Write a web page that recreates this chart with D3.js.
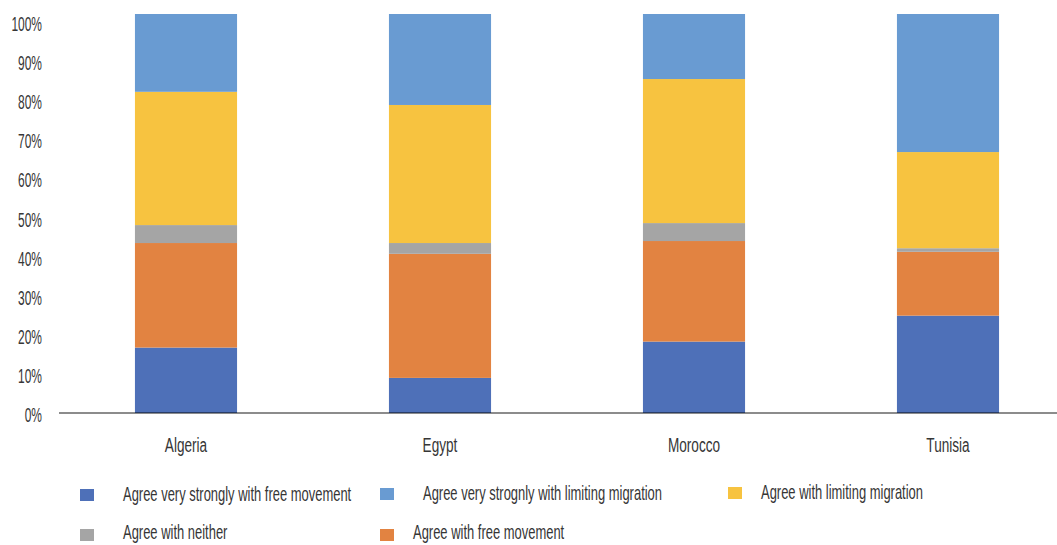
<!DOCTYPE html>
<html>
<head>
<meta charset="utf-8">
<script src="https://cdn.jsdelivr.net/npm/d3@7"></script>
<style>
  html, body { margin: 0; padding: 0; background: #fff; }
  svg { display: block; }
  text { font-family: "Liberation Sans", Arial, sans-serif; fill: #363636; }
</style>
</head>
<body>
<svg id="chart" width="1057" height="545"></svg>
<script>
// ---- data ----
const countries = ["Algeria", "Egypt", "Morocco", "Tunisia"];
const veryStronglyFree = [16.4, 8.8, 17.9, 24.4];
const withFree = [26.2, 31.1, 25.2, 16.0];
const neither = [4.5, 2.7, 4.5, 0.9];
const withLimiting = [33.4, 34.6, 36.1, 24.1];
const veryStronglyLimiting = [19.5, 22.8, 16.3, 34.6];
const yTicks = [0, 10, 20, 30, 40, 50, 60, 70, 80, 90, 100];
const seriesNames = [
  "Agree very strongly with free movement",
  "Agree with free movement",
  "Agree with neither",
  "Agree with limiting migration",
  "Agree very strognly with limiting migration"
];
const seriesColors = ["#4e70b8", "#e28341", "#a5a5a5", "#f7c340", "#699bd2"];

// ---- build table ----
const seriesValues = [veryStronglyFree, withFree, neither, withLimiting, veryStronglyLimiting];
const keys = seriesNames;
const table = countries.map((c, i) => {
  const row = { country: c };
  keys.forEach((k, j) => row[k] = seriesValues[j][i]);
  return row;
});
const stack = d3.stack().keys(keys).offset(d3.stackOffsetExpand);
const stacked = stack(table);

const svg = d3.select("#chart");

const x = d3.scaleBand().domain(countries).range([59, 1075])
  .paddingInner(0.598).paddingOuter(0.299);
const y = d3.scaleLinear().domain([0, 1]).range([413, 14]);
const yLab = d3.scaleLinear().domain([0, 100]).range([414, 23]);
const color = d3.scaleOrdinal().domain(keys).range(seriesColors);

// bars
svg.append("g").selectAll("g").data(stacked).join("g")
  .attr("fill", d => color(d.key))
  .selectAll("rect").data(d => d).join("rect")
  .attr("x", d => x(d.data.country))
  .attr("width", x.bandwidth())
  .attr("y", d => y(d[1]))
  .attr("height", d => y(d[0]) - y(d[1]));

// x axis line
svg.append("line")
  .attr("x1", 59).attr("x2", 1057)
  .attr("y1", 413).attr("y2", 413)
  .attr("stroke", "rgba(0,0,0,0.45)").attr("stroke-width", 2);

// y axis labels
const yAxis = svg.append("g").attr("transform", "translate(42,0)")
  .call(d3.axisLeft(yLab).tickValues(yTicks).tickFormat(d => d + "%").tickSize(0).tickPadding(0));
yAxis.select(".domain").remove();
yAxis.selectAll("text")
  .attr("font-family", "'Liberation Sans', Arial, sans-serif")
  .attr("font-size", 21)
  .attr("fill", "#363636")
  .attr("x", 0)
  .attr("dy", "0.36em")
  .attr("transform", "scale(0.57,1)");

// category labels
svg.append("g").selectAll("g").data(countries).join("g")
  .attr("transform", d => `translate(${x(d) + x.bandwidth() / 2},452) scale(0.68,1)`)
  .append("text")
  .attr("text-anchor", "middle")
  .attr("font-size", 20)
  .text(d => d);

// legend
const legendOrder = [0, 4, 3, 2, 1];
const legendPos = [
  { sx: 80, tx: 123, y: 495, ty: 494 },
  { sx: 380, tx: 423, y: 494, ty: 493 },
  { sx: 728, tx: 761, y: 493, ty: 492 },
  { sx: 80, tx: 123, y: 535, ty: 532 },
  { sx: 380, tx: 413, y: 535, ty: 532 }
];
const leg = svg.append("g").selectAll("g").data(legendOrder).join("g");
leg.append("rect")
  .attr("x", (d, i) => legendPos[i].sx)
  .attr("y", (d, i) => legendPos[i].y - 6)
  .attr("width", 14).attr("height", 12)
  .attr("fill", d => seriesColors[d]);
leg.append("g")
  .attr("transform", (d, i) => `translate(${legendPos[i].tx},${legendPos[i].ty}) scale(0.648,1)`)
  .append("text")
  .attr("dy", "0.36em")
  .attr("font-size", 20)
  .text(d => seriesNames[d]);
</script>
</body>
</html>
